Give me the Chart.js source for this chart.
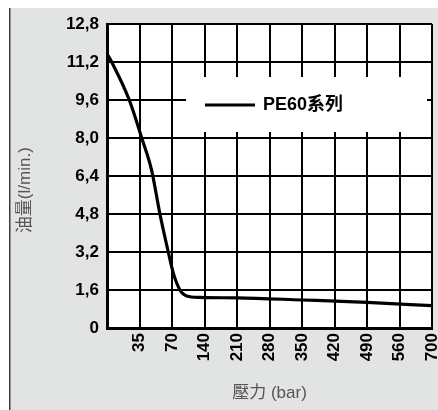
<!DOCTYPE html>
<html>
<head>
<meta charset="utf-8">
<script src="https://cdn.jsdelivr.net/npm/chart.js@4.4.1/dist/chart.umd.min.js"></script>
<style>
  html, body { margin: 0; padding: 0; background: #ffffff; }
  canvas { display: block; }
</style>
</head>
<body>
<canvas id="c" width="438" height="410"></canvas>
<script>
// ---- data ----
const pressureTicks = [0, 35, 70, 140, 210, 280, 350, 420, 490, 560, 700]; // bar, equally spaced grid
const pressureLabels = ['', '35', '70', '140', '210', '280', '350', '420', '490', '560', '700'];
const pressureBar = [0, 5, 24, 37.4, 48, 57, 66, 73, 87, 94.5, 101.5, 130, 210, 350, 490, 700];
const flowLpm    = [11.55, 11.2, 9.6, 8.0, 6.65, 4.8, 3.2, 2.3, 1.6, 1.43, 1.35, 1.29, 1.27, 1.18, 1.08, 0.94];
const flowTicks = [0, 1.6, 3.2, 4.8, 6.4, 8.0, 9.6, 11.2, 12.8];
const seriesName = 'PE60系列';
const xTitle = '壓力 (bar)';
const yTitle = '油量(l/min.)';

// map a pressure in bar onto the (piecewise, equally spaced) grid position
function toPos(bar) {
  for (let k = 0; k < pressureTicks.length - 1; k++) {
    const a = pressureTicks[k], b = pressureTicks[k + 1];
    if (bar <= b) return k + (bar - a) / (b - a);
  }
  return pressureTicks.length - 1;
}
const points = pressureBar.map((p, i) => ({ x: toPos(p), y: flowLpm[i] }));

const FONT = "'Liberation Sans', Arial, 'Noto Sans CJK TC', sans-serif";

const bgPlugin = {
  id: 'bg',
  beforeDraw(chart) {
    const ctx = chart.ctx, ca = chart.chartArea;
    ctx.save();
    ctx.fillStyle = '#ffffff';
    ctx.fillRect(0, 0, chart.width, chart.height);
    ctx.fillStyle = '#e2e3e3';
    ctx.fillRect(9, 8, chart.width - 9, chart.height - 8);
    ctx.fillStyle = '#3c3c3c';
    ctx.fillRect(9, 8, 1.5, chart.height - 8);
    ctx.fillStyle = '#ffffff';
    ctx.fillRect(ca.left, ca.top, ca.right - ca.left, ca.bottom - ca.top);
    ctx.restore();
  }
};

const insetLegend = {
  id: 'insetLegend',
  beforeDatasetsDraw(chart) {
    const ctx = chart.ctx, ca = chart.chartArea;
    const ds = chart.data.datasets[0];
    const x0 = ca.left + 79, y0 = ca.top + 53, w = 241, h = 55;
    ctx.save();
    ctx.fillStyle = '#ffffff';
    ctx.fillRect(x0, y0, w, h);
    const ly = y0 + 28;
    ctx.strokeStyle = ds.borderColor;
    ctx.lineWidth = 3;
    ctx.beginPath();
    ctx.moveTo(x0 + 19, ly);
    ctx.lineTo(x0 + 69, ly);
    ctx.stroke();
    ctx.fillStyle = '#000000';
    ctx.font = "bold 18px " + FONT;
    ctx.textBaseline = 'middle';
    ctx.textAlign = 'left';
    ctx.fillText(ds.label, x0 + 77, ly);
    ctx.restore();
  }
};

new Chart(document.getElementById('c'), {
  type: 'line',
  data: {
    datasets: [{
      label: seriesName,
      data: points,
      borderColor: '#000000',
      borderWidth: 3.2,
      pointRadius: 0,
      fill: false,
      cubicInterpolationMode: 'monotone'
    }]
  },
  options: {
    responsive: false,
    animation: false,
    layout: { padding: { top: 24, right: 6, bottom: 0, left: 0 } },
    plugins: { legend: { display: false }, tooltip: { enabled: false } },
    scales: {
      x: {
        type: 'linear',
        min: 0,
        max: pressureTicks.length - 1,
        afterBuildTicks(scale) {
          scale.ticks = pressureTicks.map((p, i) => ({ value: i }));
        },
        afterFit(scale) { scale.height = 82; scale.paddingLeft = 0; scale.paddingRight = 0; },
        grid: { color: '#000000', lineWidth: 2, drawTicks: false },
        border: { color: '#000000', width: 3 },
        ticks: {
          autoSkip: false,
          maxRotation: 90,
          minRotation: 90,
          padding: 5,
          color: '#000000',
          font: { family: FONT, size: 17, weight: 'bold' },
          callback: (v) => pressureLabels[Math.round(v)]
        },
        title: {
          display: true,
          text: xTitle,
          color: '#555555',
          font: { family: FONT, size: 17 },
          padding: { top: 0, bottom: 6 }
        }
      },
      y: {
        type: 'linear',
        min: 0,
        max: 12.8,
        afterBuildTicks(scale) {
          scale.ticks = flowTicks.map(v => ({ value: v }));
        },
        afterFit(scale) { scale.width = 107; scale.paddingTop = 0; scale.paddingBottom = 0; },
        grid: { color: '#000000', lineWidth: 2, drawTicks: false },
        border: { color: '#000000', width: 3 },
        ticks: {
          padding: 8,
          color: '#000000',
          font: { family: FONT, size: 17, weight: 'bold' },
          callback: (v) => v === 0 ? '0' : v.toFixed(1).replace('.', ',')
        },
        title: {
          display: true,
          text: yTitle + '      ',
          color: '#555555',
          font: { family: FONT, size: 17 },
          padding: { top: 15, bottom: 0 }
        }
      }
    }
  },
  plugins: [bgPlugin, insetLegend]
});
</script>
</body>
</html>
